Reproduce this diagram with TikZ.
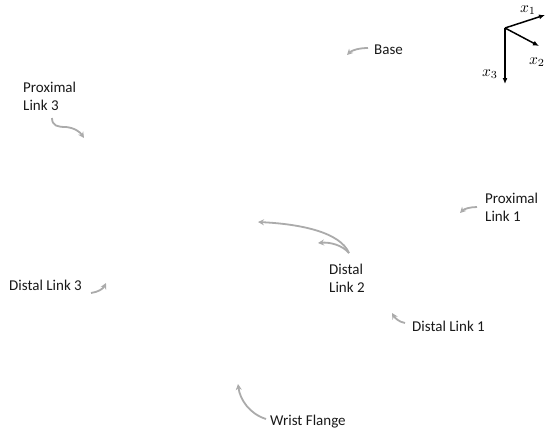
\documentclass[tikz,border=0pt]{standalone}
\usepackage{fontspec}
\setmainfont{Carlito}
\usepackage{graphicx}
\usetikzlibrary{arrows.meta}
\newcommand{\axl}[1]{\scalebox{1.55}{$#1$}}
\begin{document}
\begin{tikzpicture}[x=1pt,y=-1pt,
 lbl/.style={font=\fontsize{15}{18}\selectfont, text=black!90, inner sep=0pt, anchor=west, align=left},
 callout/.style={draw=black!33, line width=1.8pt, -{Stealth[length=6pt,width=6pt]}},
 axis/.style={line width=1.5pt, -{Latex[length=6pt,width=5pt]}},
 axlbl/.style={inner sep=0pt}]
\useasboundingbox (0,0) rectangle (546,436);
% axes
\coordinate (O) at (505,28);
\coordinate (e1) at (545,15);
\coordinate (e2) at (539,46);
\coordinate (e3) at (505,84);
\draw[axis] (O) -- (e1);
\draw[axis] (O) -- (e2);
\draw[axis] (O) -- (e3);
\node[axlbl] (lx1) at (528,10) {\axl{x_1}};
\node[axlbl] (lx2) at (537,62) {\axl{x_2}};
\node[axlbl] (lx3) at (490,74) {\axl{x_3}};
% labels
\node[lbl] (base) at (374,50) {Base};
\node[lbl] (pl3) at (23,96) {Proximal\\Link 3};
\node[lbl] (dl2) at (329,278) {Distal\\Link 2};
\node[lbl] (pl1) at (485,207) {Proximal\\Link 1};
\node[lbl] (dl3) at (9,285) {Distal Link 3};
\node[lbl] (dl1) at (412,326) {Distal Link 1};
\node[lbl] (wf) at (270,422) {Wrist Flange};
% callout start / end coordinates
\coordinate (bs) at (368,48);   \coordinate (bt) at (347,55);
\coordinate (p3s) at (52,118);  \coordinate (p3m) at (66,127); \coordinate (p3t) at (84,138);
\coordinate (d2s) at (349,253); \coordinate (d2a) at (258,222); \coordinate (d2b) at (318,243);
\coordinate (p1s) at (477,207); \coordinate (p1t) at (460,213);
\coordinate (d3s) at (91,293);  \coordinate (d3t) at (106,283);
\coordinate (d1s) at (405,323); \coordinate (d1t) at (392,313);
\coordinate (wfs) at (266,419); \coordinate (wft) at (238,384);
\draw[callout] (bs) .. controls (360,48) and (352,50) .. (bt);
\draw[callout] (p3s) .. controls (52,126) and (58,127) .. (p3m) .. controls (75,128) and (80,132) .. (p3t);
\draw[callout] (d2s) .. controls (340,232) and (300,224) .. (d2a);
\draw[callout] (d2s) .. controls (342,245) and (330,242) .. (d2b);
\draw[callout] (p1s) .. controls (470,207) and (464,209) .. (p1t);
\draw[callout] (d3s) .. controls (98,292) and (103,289) .. (d3t);
\draw[callout] (d1s) .. controls (399,322) and (395,318) .. (d1t);
\draw[callout] (wfs) .. controls (250,414) and (240,400) .. (wft);
\end{tikzpicture}
\end{document}
